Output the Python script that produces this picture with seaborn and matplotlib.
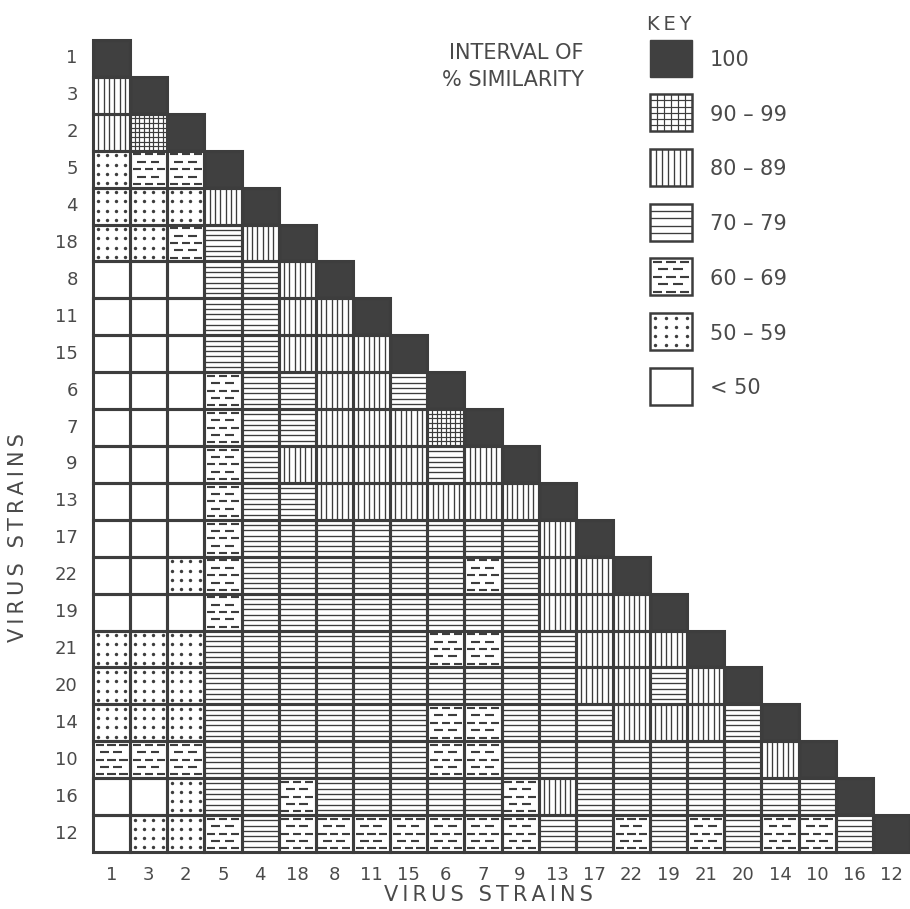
import numpy as np
import pandas as pd
import matplotlib
matplotlib.use("Agg")
import matplotlib.pyplot as plt
import seaborn as sns
from matplotlib.colors import ListedColormap
from matplotlib.patches import Rectangle

# strain order used on both axes
strains = ["1", "3", "2", "5", "4", "18", "8", "11", "15", "6", "7",
           "9", "13", "17", "22", "19", "21", "20", "14", "10", "16", "12"]

# similarity class of each cell in the lower triangle, one list per row
# 6 = 100, 5 = 90-99, 4 = 80-89, 3 = 70-79, 2 = 60-69, 1 = 50-59, 0 = <50
class_rows = [
    [6],
    [4, 6],
    [4, 5, 6],
    [1, 2, 2, 6],
    [1, 1, 1, 4, 6],
    [1, 1, 2, 3, 4, 6],
    [0, 0, 0, 3, 3, 4, 6],
    [0, 0, 0, 3, 3, 4, 4, 6],
    [0, 0, 0, 3, 3, 4, 4, 4, 6],
    [0, 0, 0, 2, 3, 3, 4, 4, 3, 6],
    [0, 0, 0, 2, 3, 3, 4, 4, 4, 5, 6],
    [0, 0, 0, 2, 3, 4, 4, 4, 4, 3, 4, 6],
    [0, 0, 0, 2, 3, 3, 4, 4, 4, 4, 4, 4, 6],
    [0, 0, 0, 2, 3, 3, 3, 3, 3, 3, 3, 3, 4, 6],
    [0, 0, 1, 2, 3, 3, 3, 3, 3, 3, 2, 3, 4, 4, 6],
    [0, 0, 0, 2, 3, 3, 3, 3, 3, 3, 3, 3, 4, 4, 4, 6],
    [1, 1, 1, 3, 3, 3, 3, 3, 3, 2, 2, 3, 3, 4, 4, 4, 6],
    [1, 1, 1, 3, 3, 3, 3, 3, 3, 3, 3, 3, 3, 4, 4, 3, 4, 6],
    [1, 1, 1, 3, 3, 3, 3, 3, 3, 2, 2, 3, 3, 3, 4, 4, 4, 3, 6],
    [2, 2, 2, 3, 3, 3, 3, 3, 3, 2, 2, 3, 3, 3, 3, 3, 3, 3, 4, 6],
    [0, 0, 1, 3, 3, 2, 3, 3, 3, 3, 3, 2, 4, 3, 3, 3, 3, 3, 3, 3, 6],
    [0, 1, 1, 2, 3, 2, 2, 2, 2, 2, 2, 2, 3, 3, 2, 3, 2, 3, 2, 2, 3, 6],
]

key_codes = [6, 5, 4, 3, 2, 1, 0]
key_labels = ["100", "90 – 99", "80 – 89", "70 – 79", "60 – 69", "50 – 59", "< 50"]

INK = "#3d3d3d"
DARK = "#404040"
TXT = "#4a4a4a"
LW = 0.95


def draw_pattern(a, code, x0, y0, w, h, nv=6, nh=6, ng=7):
    # hand-drawn style fill for one cell (y grows downward)
    if code == 5:
        xs = x0 + w * np.arange(1, ng + 1) / (ng + 1)
        ys = y0 + h * np.arange(1, ng + 1) / (ng + 1)
        a.vlines(xs, y0, y0 + h, colors=INK, lw=LW * 0.9)
        a.hlines(ys, x0, x0 + w, colors=INK, lw=LW * 0.9)
    elif code == 4:
        xs = x0 + w * np.arange(1, nv + 1) / (nv + 1)
        a.vlines(xs, y0, y0 + h, colors=INK, lw=LW)
    elif code == 3:
        ys = y0 + h * np.arange(1, nh + 1) / (nh + 1)
        a.hlines(ys, x0, x0 + w, colors=INK, lw=LW)
    elif code == 2:
        for k in range(5):
            y = y0 + h * (k + 0.5) / 5
            if k % 2 == 0:
                segs = [(0.07, 0.29), (0.39, 0.61), (0.71, 0.93)]
            else:
                segs = [(0.19, 0.43), (0.55, 0.79)]
            a.hlines([y] * len(segs), [x0 + w * s for s, e in segs],
                     [x0 + w * e for s, e in segs], colors=INK, lw=LW * 1.6)
    elif code == 1:
        gx, gy = np.meshgrid((np.arange(4) + 0.5) / 4, (np.arange(4) + 0.5) / 4)
        a.scatter(x0 + w * gx.ravel(), y0 + h * gy.ravel(), s=6, c=INK,
                  marker="o", linewidths=0, zorder=3)


n = len(strains)
mat = np.full((n, n), np.nan)
for i, r in enumerate(class_rows):
    mat[i, :len(r)] = r
df = pd.DataFrame(mat, index=strains, columns=strains)
mask = np.triu(np.ones((n, n), dtype=bool), k=1)

sns.set_style("white")
plt.rcParams["font.family"] = ["DejaVu Sans"]

fig = plt.figure(figsize=(9.1, 9.09), dpi=100)
ax = fig.add_axes([93 / 910, 1 - 852 / 909, 817 / 910, 812 / 909])

cmap = ListedColormap(["white"] * 6 + [DARK])
sns.heatmap(df, mask=mask, cmap=cmap, vmin=-0.5, vmax=6.5, cbar=False,
            linewidths=0, xticklabels=strains, yticklabels=strains, ax=ax)

for i, r in enumerate(class_rows):
    for j, code in enumerate(r):
        draw_pattern(ax, code, j, i, 1, 1)
        ax.add_patch(Rectangle((j, i), 1, 1, fill=False, edgecolor=INK,
                               lw=2.2, clip_on=False, zorder=4))

ax.set_xlim(0, n)
ax.set_ylim(n, 0)
ax.set_xlabel("")
ax.set_ylabel("")
ax.tick_params(axis="x", length=0, labelsize=13, labelcolor=TXT, pad=10, rotation=0)
ax.tick_params(axis="y", length=0, labelsize=13, labelcolor=TXT, pad=11, rotation=0)

# overlay in pixel coordinates for key and titles
lax = fig.add_axes([0, 0, 1, 1], zorder=3)
lax.set_xlim(0, 910)
lax.set_ylim(909, 0)
lax.axis("off")

bx, bw, bh = 650, 42, 37
for k, (code, lab) in enumerate(zip(key_codes, key_labels)):
    cy = 58 + 54.7 * k
    y0 = cy - bh / 2
    if code == 6:
        lax.add_patch(Rectangle((bx, y0), bw, bh, facecolor=DARK, edgecolor=DARK, lw=1))
    else:
        lax.add_patch(Rectangle((bx, y0), bw, bh, facecolor="white", edgecolor=INK, lw=1.8))
        draw_pattern(lax, code, bx, y0, bw, bh, nv=6, nh=4, ng=5)
    lax.text(710, cy + 2, lab, fontsize=15, color=TXT, ha="left", va="center")

thin = "\u2009"
lax.text(669, 24, thin.join("KEY"), fontsize=14, color=TXT, ha="center", va="center")
lax.text(516, 53, "INTERVAL OF", fontsize=15, color=TXT, ha="center", va="center")
lax.text(513, 80, "% SIMILARITY", fontsize=15, color=TXT, ha="center", va="center")
lax.text(488, 895, thin.join("VIRUS STRAINS"), fontsize=15, color=TXT,
         ha="center", va="center")
lax.text(18, 538, thin.join("VIRUS STRAINS"), fontsize=15, color=TXT,
         ha="center", va="center", rotation=90)

fig.savefig("out.png", dpi=100)
